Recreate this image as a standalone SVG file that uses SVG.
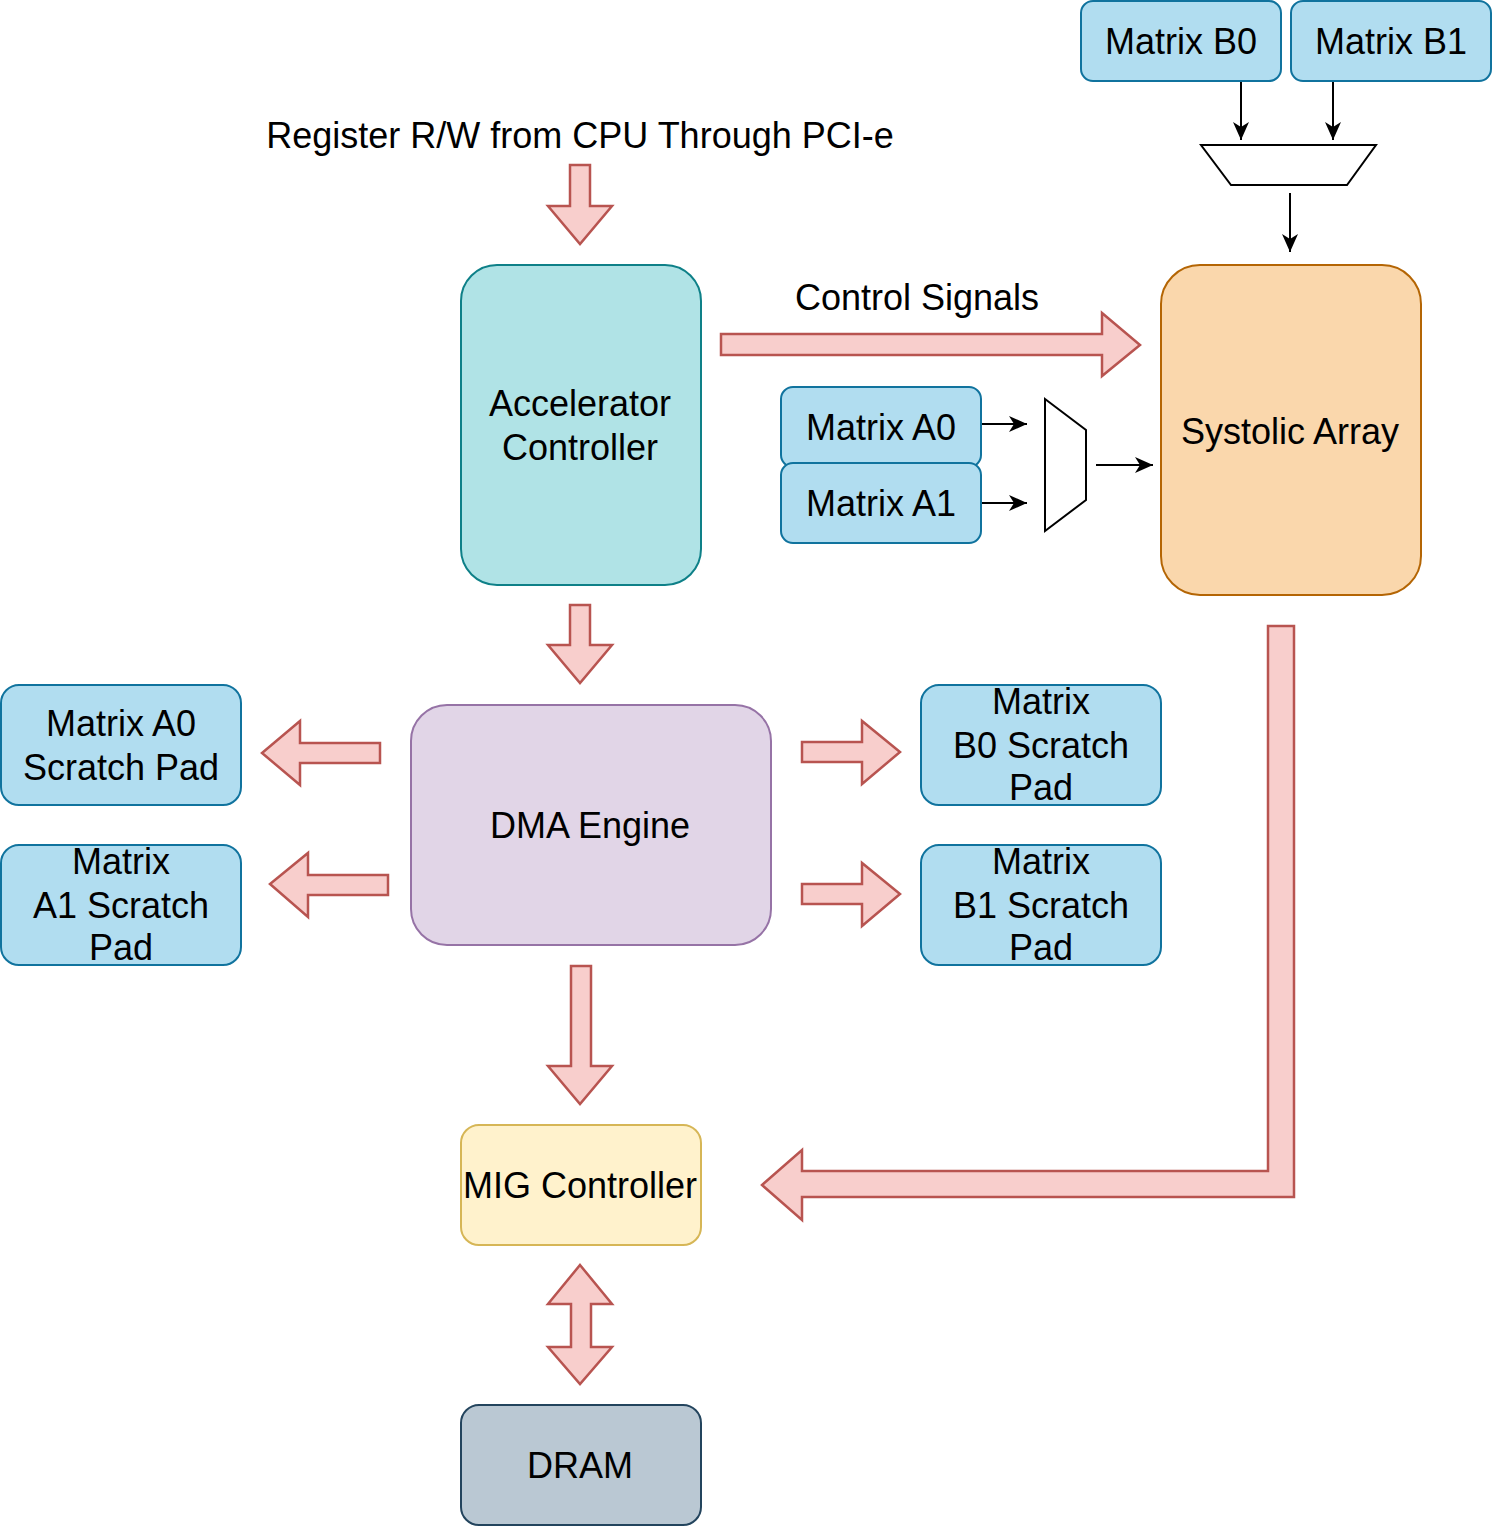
<svg xmlns="http://www.w3.org/2000/svg" width="1492" height="1526" viewBox="0 0 1492 1526">
<style>
text{font-family:"Liberation Sans",Arial,Helvetica,sans-serif;font-size:36px;fill:#000;text-anchor:middle}
.blue{fill:#b1ddf0;stroke:#10739e;stroke-width:2}
.fat{fill:#f8cecc;stroke:#b85450;stroke-width:2.5;stroke-linejoin:miter}
.wire{fill:none;stroke:#000;stroke-width:2}
.mux{fill:#fff;stroke:#000;stroke-width:2}
</style>
<defs>
<marker id="ah" markerWidth="18" markerHeight="16" refX="18" refY="8" orient="auto" markerUnits="userSpaceOnUse" viewBox="0 0 18 16">
<path d="M0,0 L18,8 L0,16 L5,8 Z" fill="#000"/>
</marker>
</defs>
<rect width="1492" height="1526" fill="#fff"/>

<text x="580" y="148">Register R/W from CPU Through PCI-e</text>
<text x="917" y="310">Control Signals</text>

<g id="matrixB0"><rect class="blue" x="1081" y="1" width="200" height="80" rx="12"/><text x="1181" y="54">Matrix B0</text></g>
<g id="matrixB1"><rect class="blue" x="1291" y="1" width="200" height="80" rx="12"/><text x="1391" y="54">Matrix B1</text></g>
<g id="muxB"><polygon class="mux" points="1201,145 1376,145 1347,185 1231,185"/></g>

<g id="accel"><rect x="461" y="265" width="240" height="320" rx="36" fill="#b0e3e6" stroke="#0e8088" stroke-width="2"/><text x="580" y="416">Accelerator</text><text x="580" y="460">Controller</text></g>
<g id="systolic"><rect x="1161" y="265" width="260" height="330" rx="39" fill="#fad7ac" stroke="#b46504" stroke-width="2"/><text x="1290" y="444">Systolic Array</text></g>
<g id="matrixA0"><rect class="blue" x="781" y="387" width="200" height="80" rx="12"/><text x="881" y="440">Matrix A0</text></g>
<g id="matrixA1"><rect class="blue" x="781" y="463" width="200" height="80" rx="12"/><text x="881" y="516">Matrix A1</text></g>
<g id="muxA"><polygon class="mux" points="1045,399 1086,430 1086,500 1045,531"/></g>

<g id="dma"><rect x="411" y="705" width="360" height="240" rx="36" fill="#e1d5e7" stroke="#9673a6" stroke-width="2"/><text x="590" y="838">DMA Engine</text></g>
<g id="spA0"><rect class="blue" x="1" y="685" width="240" height="120" rx="18"/><text x="121" y="736">Matrix A0</text><text x="121" y="780">Scratch Pad</text></g>
<g id="spA1"><rect class="blue" x="1" y="845" width="240" height="120" rx="18"/><text x="121" y="874">Matrix</text><text x="121" y="918">A1 Scratch</text><text x="121" y="960">Pad</text></g>
<g id="spB0"><rect class="blue" x="921" y="685" width="240" height="120" rx="18"/><text x="1041" y="714">Matrix</text><text x="1041" y="758">B0 Scratch</text><text x="1041" y="800">Pad</text></g>
<g id="spB1"><rect class="blue" x="921" y="845" width="240" height="120" rx="18"/><text x="1041" y="874">Matrix</text><text x="1041" y="918">B1 Scratch</text><text x="1041" y="960">Pad</text></g>
<g id="mig"><rect x="461" y="1125" width="240" height="120" rx="18" fill="#fff2cc" stroke="#d6b656" stroke-width="2"/><text x="580" y="1198">MIG Controller</text></g>
<g id="dram"><rect x="461" y="1405" width="240" height="120" rx="18" fill="#bac8d3" stroke="#23445d" stroke-width="2"/><text x="580" y="1478">DRAM</text></g>

<g id="connectors">
<line class="wire" x1="1241" y1="82" x2="1241" y2="140" marker-end="url(#ah)"/>
<line class="wire" x1="1333" y1="82" x2="1333" y2="140" marker-end="url(#ah)"/>
<line class="wire" x1="1290" y1="193" x2="1290" y2="252" marker-end="url(#ah)"/>
<line class="wire" x1="982" y1="424" x2="1027" y2="424" marker-end="url(#ah)"/>
<line class="wire" x1="982" y1="503" x2="1027" y2="503" marker-end="url(#ah)"/>
<line class="wire" x1="1096" y1="465" x2="1153" y2="465" marker-end="url(#ah)"/>

<polygon class="fat" points="570,165 590,165 590,206 612,206 580,244 548,206 570,206"/>
<polygon class="fat" points="570,605 590,605 590,645 612,645 580,683 548,645 570,645"/>
<polygon class="fat" points="721,334 1102,334 1102,313 1140,345 1102,376 1102,355 721,355"/>
<polygon class="fat" points="380,743 300,743 300,721 262,753 300,785 300,763 380,763"/>
<polygon class="fat" points="388,875 308,875 308,853 270,884 308,917 308,895 388,895"/>
<polygon class="fat" points="802,742 862,742 862,721 900,752 862,784 862,762 802,762"/>
<polygon class="fat" points="802,884 862,884 862,863 900,894 862,926 862,904 802,904"/>
<polygon class="fat" points="571,966 591,966 591,1066 612,1066 580,1104 548,1066 571,1066"/>
<polygon class="fat" points="1268,626 1294,626 1294,1197 802,1197 802,1220 762,1185 802,1150 802,1171 1268,1171"/>
<polygon class="fat" points="580,1265 612,1304 591,1304 591,1347 612,1347 580,1384 548,1347 571,1347 571,1304 548,1304"/>
</g>
</svg>
